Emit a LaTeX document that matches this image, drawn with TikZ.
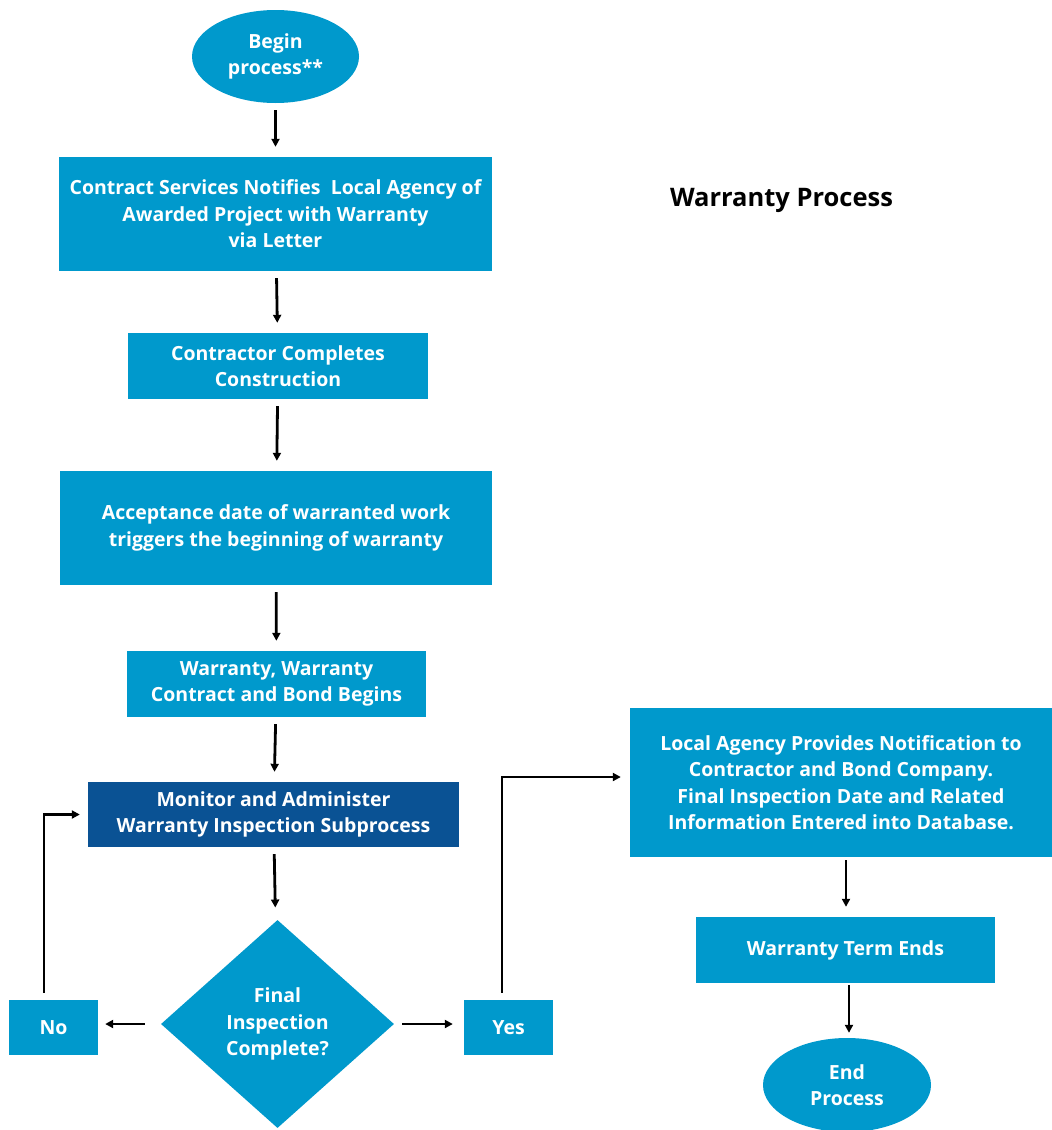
\documentclass[tikz,border=0pt]{standalone}
\usepackage{fontspec}
\setmainfont{Open Sans}
\usetikzlibrary{shapes.geometric,arrows.meta}
\definecolor{lblue}{RGB}{0,153,204}
\definecolor{dblue}{RGB}{10,82,148}
\begin{document}
\begin{tikzpicture}[x=1pt,y=-1pt,
  every node/.style={font=\fontsize{19.5}{26.5}\selectfont\bfseries, text=white, align=center, inner sep=0pt},
  box/.style={rectangle, fill=lblue},
  oval/.style={ellipse, fill=lblue},
  decision/.style={diamond, fill=lblue},
  arr/.style={-{Triangle[length=8pt,width=8pt]}, line width=2.8pt, black},
  link/.style={arr, shorten <=7pt, shorten >=10pt}]
\useasboundingbox (0,0) rectangle (1052,1130);
\fill[white] (0,0) rectangle (1052,1130);

\node[oval, minimum width=167pt, minimum height=93pt] (begin) at (275.5,56.5) {Begin\\process**};
\node[box, minimum width=433pt, minimum height=114pt] (notify) at (275.5,214) {Contract Services Notifies\ \ Local Agency of\\Awarded Project with Warranty\\via Letter};
\node[font=\fontsize{25.5}{30}\selectfont\bfseries, text=black] (title) at (781.5,200) {Warranty Process};
\node[box, minimum width=300pt, minimum height=66pt] (constr) at (278,366) {Contractor Completes\\Construction};
\node[box, minimum width=432pt, minimum height=114pt] (accept) at (276,528) {Acceptance date of warranted work\\triggers the beginning of warranty};
\node[box, minimum width=299pt, minimum height=66pt] (begins) at (276.5,684) {Warranty, Warranty\\Contract and Bond Begins};
\node[box, fill=dblue, minimum width=371pt, minimum height=65pt] (monitor) at (273.5,814.5) {Monitor and Administer\\Warranty Inspection Subprocess};
\node[decision, minimum width=233pt, minimum height=208pt] (final) at (277.5,1024) {Final\\Inspection\\Complete?};
\node[box, minimum width=89pt, minimum height=55pt] (no) at (53.5,1027.5) {No};
\node[box, minimum width=89pt, minimum height=55pt] (yes) at (508.5,1027.5) {Yes};
\node[box, minimum width=422pt, minimum height=149pt] (local) at (841,782.5) {Local Agency Provides Notification to\\Contractor and Bond Company.\\Final Inspection Date and Related\\Information Entered into Database.};
\node[box, minimum width=299pt, minimum height=66pt] (ends) at (845.5,950) {Warranty Term Ends};
\node[oval, minimum width=168pt, minimum height=94pt] (endp) at (847,1085) {End\\Process};

\draw[link] (begin) -- (notify);
\draw[link] (notify) -- (constr);
\draw[link] (constr) -- (accept);
\draw[link] (accept) -- (begins);
\draw[link] (begins) -- (monitor);
\draw[link, shorten >=14pt] (monitor) -- (final);
\draw[arr, shorten <=16pt, shorten >=7pt] (final.west) -- (no.east |- final.west);
\draw[arr, shorten <=8pt, shorten >=11pt] (final.east) -- (yes.west |- final.east);
\draw[arr, shorten <=7pt, shorten >=8pt] ([xshift=-9.5pt]no.north) |- (monitor.west);
\draw[arr, shorten <=7pt, shorten >=9pt] ([xshift=-6.5pt]yes.north) |- ([yshift=5.5pt]local.west);
\draw[link, shorten <=3pt] ([xshift=5pt]local.south) -- ([xshift=0.5pt]ends.north);
\draw[link, shorten <=2pt, shorten >=5pt] ([xshift=3.5pt]ends.south) -- ([xshift=2pt]endp.north);
\end{tikzpicture}
\end{document}
